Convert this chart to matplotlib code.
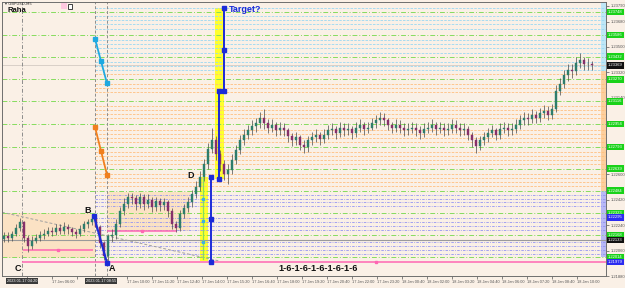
import matplotlib
matplotlib.use('Agg')
import matplotlib.pyplot as plt
import matplotlib.transforms as mtransforms
from matplotlib.patches import Rectangle

plt.rcParams['font.family'] = ['Liberation Sans', 'DejaVu Sans']

# ---------------- data (GBPUSD M5) ----------------
first_open = 1.2214
closes = [1.2216,1.2215,1.2218,1.2222,1.2226,1.2215,1.2209,1.2213,1.2215,1.2217,
          1.2218,1.2220,1.2219,1.2222,1.2220,1.2223,1.2221,1.2219,1.2218,1.2221,
          1.2225,1.2226,1.2228,1.2223,1.2211,1.2202,1.2216,1.2217,1.2225,1.2234,
          1.2239,1.2244,1.2243,1.2239,1.2244,1.2239,1.2242,1.2237,1.2241,1.2238,
          1.2240,1.2234,1.2225,1.2222,1.2232,1.2236,1.2240,1.2246,1.2251,1.2258,
          1.2267,1.2278,1.2284,1.2274,1.2267,1.2260,1.2263,1.2270,1.2277,1.2284,
          1.2288,1.2291,1.2294,1.2296,1.2300,1.2296,1.2293,1.2295,1.2291,1.2293,
          1.2291,1.2287,1.2284,1.2286,1.2281,1.2279,1.2284,1.2286,1.2288,1.2285,
          1.2288,1.2291,1.2292,1.2289,1.2293,1.2291,1.2292,1.2289,1.2293,1.2295,
          1.2292,1.2293,1.2296,1.2298,1.2300,1.2298,1.2295,1.2293,1.2295,1.2293,
          1.2291,1.2292,1.2293,1.2291,1.2289,1.2292,1.2293,1.2295,1.2292,1.2293,
          1.2291,1.2292,1.2295,1.2293,1.2291,1.2292,1.2288,1.2284,1.2280,1.2284,
          1.2286,1.2289,1.2291,1.2288,1.2292,1.2293,1.2291,1.2292,1.2295,1.2298,
          1.2300,1.2299,1.2302,1.2300,1.2303,1.2305,1.2302,1.2306,1.2319,1.2324,
          1.2330,1.2334,1.2333,1.2339,1.2341,1.2338,1.2338,1.2337]
highs = [1.2219,1.2219,1.2220,1.2225,1.2229,1.2227,1.2217,1.2216,1.2218,1.2220,
         1.2221,1.2223,1.2223,1.2225,1.2225,1.2226,1.2225,1.2223,1.2221,1.2224,
         1.2227,1.2228,1.2230,1.2230,1.2224,1.2213,1.2218,1.2221,1.2228,1.2237,
         1.2243,1.2247,1.2247,1.2245,1.2247,1.2246,1.2246,1.2244,1.2244,1.2243,
         1.2243,1.2242,1.2236,1.2227,1.2235,1.2239,1.2244,1.2249,1.2255,1.2262,
         1.2271,1.2282,1.2293,1.2287,1.2277,1.2270,1.2267,1.2274,1.2281,1.2288,
         1.2292,1.2295,1.2298,1.2300,1.2304,1.2306,1.2299,1.2299,1.2297,1.2297,
         1.2296,1.2293,1.2289,1.2290,1.2288,1.2284,1.2287,1.2290,1.2292,1.2290,
         1.2292,1.2295,1.2296,1.2294,1.2297,1.2296,1.2296,1.2294,1.2297,1.2299,
         1.2297,1.2297,1.2300,1.2302,1.2304,1.2303,1.2300,1.2297,1.2299,1.2298,
         1.2296,1.2296,1.2297,1.2296,1.2294,1.2296,1.2297,1.2299,1.2297,1.2297,
         1.2296,1.2296,1.2299,1.2298,1.2296,1.2296,1.2294,1.2290,1.2286,1.2287,
         1.2290,1.2293,1.2295,1.2293,1.2296,1.2297,1.2296,1.2296,1.2299,1.2302,
         1.2304,1.2303,1.2306,1.2305,1.2307,1.2309,1.2308,1.2310,1.2323,1.2328,
         1.2334,1.2338,1.2338,1.2343,1.2346,1.2343,1.2342,1.2340]
lows = [1.2212,1.2212,1.2213,1.2216,1.2220,1.2212,1.2205,1.2207,1.2211,1.2213,
        1.2214,1.2216,1.2216,1.2217,1.2218,1.2218,1.2218,1.2216,1.2215,1.2216,
        1.2219,1.2222,1.2224,1.2221,1.2208,1.2199,1.2197,1.2212,1.2214,1.2223,
        1.2231,1.2236,1.2239,1.2235,1.2236,1.2235,1.2236,1.2233,1.2234,1.2234,
        1.2235,1.2230,1.2221,1.2219,1.2220,1.2229,1.2233,1.2237,1.2243,1.2248,
        1.2255,1.2264,1.2275,1.2270,1.2262,1.2256,1.2253,1.2260,1.2267,1.2274,
        1.2281,1.2285,1.2288,1.2290,1.2293,1.2292,1.2289,1.2290,1.2287,1.2288,
        1.2287,1.2283,1.2280,1.2281,1.2277,1.2275,1.2276,1.2281,1.2283,1.2281,
        1.2282,1.2285,1.2288,1.2285,1.2286,1.2287,1.2288,1.2285,1.2286,1.2290,
        1.2288,1.2289,1.2291,1.2293,1.2295,1.2294,1.2291,1.2289,1.2290,1.2289,
        1.2287,1.2288,1.2289,1.2287,1.2285,1.2286,1.2289,1.2290,1.2288,1.2289,
        1.2287,1.2288,1.2289,1.2289,1.2287,1.2288,1.2284,1.2279,1.2275,1.2277,
        1.2281,1.2283,1.2286,1.2284,1.2285,1.2289,1.2287,1.2288,1.2289,1.2292,
        1.2295,1.2295,1.2296,1.2296,1.2297,1.2300,1.2298,1.2299,1.2304,1.2316,
        1.2321,1.2326,1.2328,1.2330,1.2335,1.2334,1.2334,1.2334]

# plain price-scale labels (the ones not hidden by coloured price boxes)
price_ticks = [1.21880, 1.22060, 1.22240, 1.22420, 1.22600,
               1.23140, 1.23320, 1.23500, 1.23680, 1.23790]
# time-scale labels; those covered by the vertical-line time boxes are blank
time_labels = ["", "17 Jan 06:00", "", "",
               "17 Jan 10:00", "17 Jan 11:20", "17 Jan 12:40", "17 Jan 14:00",
               "17 Jan 15:20", "17 Jan 16:40", "17 Jan 18:00", "17 Jan 19:20",
               "17 Jan 20:40", "17 Jan 22:00", "17 Jan 23:20", "18 Jan 00:40",
               "18 Jan 02:00", "18 Jan 03:20", "18 Jan 04:40", "18 Jan 06:00",
               "18 Jan 07:20", "18 Jan 08:40", "18 Jan 10:00"]

green_levels = [1.23748, 1.23586, 1.23432, 1.23270, 1.23116, 1.22954,
                1.22793, 1.22639, 1.22484, 1.22323, 1.22168, 1.22014]
blue_levels = [1.23776, 1.23720, 1.23692, 1.23664, 1.23628, 1.23551,
               1.23523, 1.23495, 1.23460, 1.23397, 1.23362, 1.23334]
orange_levels = [1.23306, 1.23235, 1.23207, 1.23179, 1.23081, 1.23053, 1.23025,
                 1.22997, 1.22912, 1.22884, 1.22856, 1.22828, 1.22758, 1.22730,
                 1.22702, 1.22674, 1.22604, 1.22575, 1.22547, 1.22519]
purple_levels = [1.22456, 1.22428, 1.22400, 1.22372, 1.22288, 1.22260,
                 1.22231, 1.22203, 1.22119, 1.22091, 1.22063, 1.22035]
bid_price = 1.23369
gray_level = 1.22133

# pattern points (bar index, price)
vline_bars = [4.5, 22.75, 25.75]
point_C = (4.5, 1.21979)
point_B = (22.5, 1.22302)
point_A = (25.75, 1.21972)
point_D = (51.75, 1.22583)
cyan_leg = [(22.75, 1.23558), (25.75, 1.23242)]
orange_leg = [(22.75, 1.22933), (25.75, 1.22596)]
target_leg = [(55.0, 1.23776), (55.0, 1.23186)]
target_leg2 = [(53.75, 1.23186), (53.75, 1.22569)]
d_leg = [(51.75, 1.22583), (51.75, 1.21979)]
green_leg = [(49.75, 1.22583), (49.75, 1.22000)]
trend_pts = [(-0.5, 1.22331), (54.0, 1.21985)]
box1 = (-0.5, 22.75, 1.22007, 1.22323)
box2 = (25.75, 46.5, 1.22196, 1.22477)
yellow1 = (52.75, 55.0, 1.22569, 1.23776)
yellow2 = (49.0, 51.0, 1.21986, 1.22583)
pink_long = (4.5, 150.5, 1.21979)
pink_1 = (4.75, 22.25, 1.22063)
pink_2 = (25.75, 43.25, 1.22196)

# ---------------- figure ----------------
BG = '#FAF0E6'
fig = plt.figure(figsize=(6.25, 2.88), dpi=100)
fig.patch.set_facecolor(BG)
ax = fig.add_axes([2/625, 12/288, 604/625, 274/288])
ax.set_facecolor(BG)
ax.set_xlim(-0.5, 150.5)
ax.set_ylim(1.21894, 1.23818)
tr_xa = mtransforms.blended_transform_factory(ax.transData, ax.transAxes)
tr_ay = mtransforms.blended_transform_factory(ax.transAxes, ax.transData)

# shaded boxes
for (x0, x1, y0, y1) in (box1, box2):
    ax.add_patch(Rectangle((x0, y0), x1 - x0, y1 - y0, fc='#FBE2C4', ec='none', zorder=0.5))
for (x0, x1, y0, y1) in (yellow1, yellow2):
    ax.add_patch(Rectangle((x0, y0), x1 - x0, y1 - y0, fc='#FFFF2E', ec='none', zorder=0.6))

# right strips
ax.add_patch(Rectangle((149.25, 1.23330), 1.3, 0.0049, fc='#BFE6F5', ec='none', zorder=0.7))
ax.add_patch(Rectangle((149.25, 1.22480), 1.3, 0.0085, fc='#FCCF9E', ec='none', zorder=0.7))
ax.add_patch(Rectangle((149.25, 1.22014), 1.3, 0.00466, fc='#B8B8F5', ec='none', zorder=0.7))

# horizontal levels
for p in green_levels:
    ax.axhline(p, color='#86DC5E', lw=0.7, ls=(0, (5, 2, 1, 2)), zorder=1)
for p in blue_levels:
    ax.hlines(p, 22.75, 150.5, color='#9AD8F2', lw=0.6, ls=(0, (3, 1.5)), zorder=1)
for p in orange_levels:
    ax.hlines(p, 22.75, 150.5, color='#FFC080', lw=0.6, ls=(0, (3, 1.5)), zorder=1)
for p in purple_levels:
    ax.hlines(p, 22.75, 150.5, color='#9494F2', lw=0.6, ls=(0, (3, 1.5, 1, 1.5)), zorder=1)
ax.axhline(bid_price, color='#D8D0C8', lw=0.7, zorder=1)
ax.axhline(gray_level, color='#9A9A9A', lw=0.8, zorder=1)

# vertical lines
ax.axvline(vline_bars[0], color='#8C8C8C', lw=0.7, ls=(0, (4, 2, 1, 2)), zorder=1.2)
for vb in vline_bars[1:]:
    ax.axvline(vb, color='#8C8C8C', lw=0.7, ls=(0, (3, 2)), zorder=1.2)

# trend line
ax.plot([trend_pts[0][0], trend_pts[1][0]], [trend_pts[0][1], trend_pts[1][1]],
        color='#A0A0A0', lw=0.7, ls=(0, (3, 2)), zorder=1.3)

# pink lines
ax.hlines(pink_long[2], pink_long[0], pink_long[1], color='#FF66B3', lw=1.1, zorder=2)
ax.plot([93.0], [pink_long[2]], 's', color='#FF66B3', ms=2, zorder=2)
for (x0, x1, p) in (pink_1, pink_2):
    ax.hlines(p, x0, x1, color='#FF66B3', lw=1.1, zorder=2)
    ax.plot([(x0 + x1) / 2], [p], 's', color='#FF66B3', ms=2, zorder=2)

# candles
opens = [first_open] + closes[:-1]
xs = list(range(len(closes)))
ax.vlines(xs, lows, highs, color='#4A4A4A', lw=0.5, zorder=3)
for x, o, c in zip(xs, opens, closes):
    col = '#2E7D6B' if c >= o else '#86306A'
    h = max(abs(c - o), 0.00003)
    ax.add_patch(Rectangle((x - 0.3, min(o, c)), 0.6, h, fc=col, ec=col, lw=0.3, zorder=3.1))

# pattern legs
def leg(pts, color, lw, ms=2.4, mid=True):
    (x0, y0), (x1, y1) = pts
    ax.plot([x0, x1], [y0, y1], color=color, lw=lw, zorder=4, solid_capstyle='butt')
    mx = [x0, x1] + ([(x0 + x1) / 2] if mid else [])
    my = [y0, y1] + ([(y0 + y1) / 2] if mid else [])
    ax.plot(mx, my, 's', color=color, ms=ms, zorder=4.1)

leg(cyan_leg, '#1FA9E1', 1.3)
leg(orange_leg, '#F07F1E', 1.3)
leg([point_B, point_A], '#1C2BD8', 1.5, mid=False)
leg(target_leg, '#1C2BD8', 1.4)
leg(target_leg2, '#1C2BD8', 1.4, mid=False)
leg(d_leg, '#1C2BD8', 1.4)
ax.plot([green_leg[0][0]] * 2, [green_leg[0][1], green_leg[1][1]], color='#86E05A', lw=0.9, zorder=4)
ax.plot([green_leg[0][0]] * 3, [1.22428, 1.22267, 1.22118], 's', ms=2,
        color='#3FB0E0', zorder=4.1)

# labels
lab = dict(fontsize=6.5, weight='bold', color='#111111', ha='center', va='center', zorder=5)
ax.text(point_C[0] - 1, 1.21930, 'C', **lab)
ax.text(point_B[0] - 1.5, 1.22345, 'B', **lab)
ax.text(point_A[0] + 1.3, 1.21930, 'A', **lab)
ax.text(point_D[0] - 5.2, point_D[1] + 0.00006, 'D', **lab)
ax.text(56.3, 1.23762, 'Target?', fontsize=6.5, weight='bold', color='#1C2BD8',
        ha='left', va='center', zorder=5)
ax.text(78.5, 1.21930, '1-6-1-6-1-6-1-6-1-6', fontsize=6.6, weight='bold',
        color='#111111', ha='center', va='center', zorder=5)

# axes styling
for s in ax.spines.values():
    s.set_color('#6E6E6E')
    s.set_linewidth(0.7)
ax.yaxis.tick_right()
ax.set_yticks(price_ticks)
ax.set_yticklabels([f"{v:.5f}" for v in price_ticks], fontsize=3, color='#333333')
ax.tick_params(axis='y', length=2, width=0.5, pad=1.5, colors='#555555')
tick_pos = [5.75 + 6.25 * k for k in range(len(time_labels))]
ax.set_xticks(tick_pos)
ax.set_xticklabels(time_labels, fontsize=2.8, color='#333333')
for t in ax.get_xticklabels():
    t.set_ha('left')
ax.tick_params(axis='x', length=2, width=0.5, pad=1.2, colors='#555555')

# right-side price boxes
def price_box(p, fc, tc='white'):
    ax.text(1.003, p, f"{p:.5f}", transform=tr_ay, fontsize=3, color=tc, ha='left',
            va='center', clip_on=False, zorder=6,
            bbox=dict(boxstyle='square,pad=0.3', fc=fc, ec='none'))
for p in green_levels:
    price_box(p, '#19D219', '#FFFFFF')
price_box(bid_price, '#111111')
price_box(gray_level, '#111111')
price_box(1.22295, '#2B2BF0')
price_box(pink_long[2], '#2B2BF0')

# time boxes for vertical lines
tb = dict(transform=tr_xa, fontsize=2.8, color='white', ha='center', va='top', clip_on=False,
          zorder=6, bbox=dict(boxstyle='square,pad=0.3', fc='#3A3A3A', ec='none'))
ax.text(vline_bars[0], -0.012, '2023.01.17 04:20', **tb)
ax.text((vline_bars[1] + vline_bars[2]) / 2, -0.012, '2023.01.17 08:55', **tb)

# header
fig.text(5/625, 1 - 4/288, '\u25be GBPUSD,M5', fontsize=2.8, color='#333333', va='center',
         family=['DejaVu Sans'])
fig.text(7/625, 1 - 10/288, 'Raha', fontsize=5.5, weight='bold', color='#111111', va='center')
fig.patches.append(Rectangle((61/625, 1 - 8.5/288), 6/625, 5/288, fc='#FFC8E0', ec='none',
                             transform=fig.transFigure, figure=fig))
fig.patches.append(Rectangle((68/625, 1 - 8.5/288), 4/625, 4.5/288, fc='white', ec='#222222',
                             lw=0.6, transform=fig.transFigure, figure=fig))

fig.savefig('out.png', dpi=100, facecolor=BG)
